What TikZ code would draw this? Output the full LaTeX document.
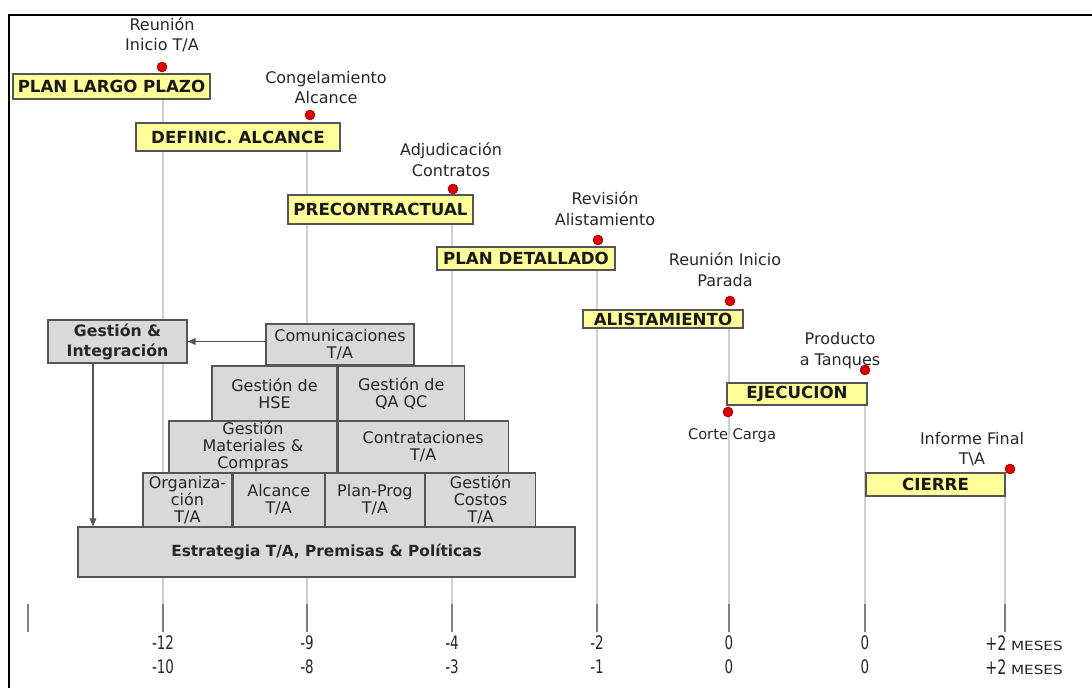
\documentclass[tikz,border=0pt]{standalone}
\usepackage{fontspec}
\setmainfont{DejaVu Sans}
\newfontfamily\numfont[FakeStretch=0.72]{DejaVu Sans}
\newfontfamily\mesfont[FakeStretch=1.2]{DejaVu Sans}
\usepackage{tikz}
\usetikzlibrary{arrows.meta, positioning, backgrounds}

\definecolor{boxyellow}{HTML}{FFFF99}
\definecolor{boxgray}{HTML}{D9D9D9}
\definecolor{edgegray}{HTML}{555555}
\definecolor{linegray}{HTML}{CFCFCF}
\definecolor{tickgray}{HTML}{808080}
\definecolor{dotred}{HTML}{D90000}

\begin{document}
\begin{tikzpicture}[
      x=0.75pt, y=-0.75pt,
      phase/.style={draw=edgegray, fill=boxyellow, line width=0.9pt, inner sep=0pt,
                    font=\fontsize{12.5}{14}\selectfont\bfseries, text=black!90},
      block/.style={draw=edgegray, fill=boxgray, line width=0.9pt, inner sep=0pt,
                    align=center, font=\fontsize{12}{12.8}\selectfont, text=black!85},
      hito/.style={align=center, inner sep=0pt, font=\fontsize{12}{15.5}\selectfont,
                   text=black!85},
      hitodot/.style={circle, draw=red!60!black, fill=dotred, inner sep=0pt,
                      minimum size=7.5pt},
      mes/.style={inner sep=0pt, font=\numfont\fontsize{14}{15}\selectfont, text=black!85},
      tl/.style={draw=linegray, line width=1.1pt},
      tk/.style={draw=tickgray, line width=1.1pt},
      arr/.style={-{Triangle[length=6pt, width=5pt]}, draw=edgegray, line width=0.8pt}
    ]
    \useasboundingbox (0,0) rectangle (1092,688);
    \draw[line width=2.2pt] (9,688) -- (9,15) -- (1092,15);

    % fases
    \node[phase, minimum width=147.75pt, minimum height=18.75pt] (plp) at (111.5,86.5) {PLAN LARGO PLAZO};
    \node[phase, minimum width=153pt,    minimum height=21pt]    (def) at (238,137)    {DEFINIC. ALCANCE};
    \node[phase, minimum width=138.75pt, minimum height=21.75pt] (pre) at (380.5,209.5) {PRECONTRACTUAL};
    \node[phase, minimum width=133.5pt,  minimum height=17.25pt] (pde) at (526,258.5)  {PLAN DETALLADO};
    \node[phase, minimum width=120pt,    minimum height=13.5pt]  (ali) at (663,319)    {ALISTAMIENTO};
    \node[phase, minimum width=105pt,    minimum height=16.5pt]  (eje) at (797,394)    {EJECUCION};
    \node[phase, minimum width=104.25pt, minimum height=17.25pt] (cie) at (935.5,484.5) {CIERRE};

    % hitos
    \node[hito] (h1) at (162,35)    {Reunión\\Inicio T/A};
    \node[hito] (h2) at (326,87.5)  {Congelamiento\\Alcance};
    \node[hito] (h3) at (451,159.5) {Adjudicación\\Contratos};
    \node[hito] (h4) at (605,208.5) {Revisión\\Alistamiento};
    \node[hito] (h5) at (725,270)   {Reunión Inicio\\Parada};
    \node[hito] (h6) at (840,350.5) {Producto\\a Tanques};
    \node[hito, font=\fontsize{11}{13}\selectfont] (h7) at (732,436) {Corte Carga};
    \node[hito] (h8) at (972,449)   {Informe Final\\T\textbackslash A};

    \node[hitodot] (d1) at (162,67)  {};
    \node[hitodot] (d2) at (310,115) {};
    \node[hitodot] (d3) at (453,189) {};
    \node[hitodot] (d4) at (598,240) {};
    \node[hitodot] (d5) at (730,301) {};
    \node[hitodot] (d6) at (865,370) {};
    \node[hitodot] (d7) at (728,412) {};
    \node[hitodot] (d8) at (1010,469) {};

    % piramide
    \node[block, minimum width=111pt, minimum height=30.75pt] (com) at (340,344.5) {Comunicaciones\\T/A};
    \node[block, minimum width=93.75pt, minimum height=41.25pt] (hse) at (274.5,393.5) {Gestión de\\HSE};
    \node[block, minimum width=94.5pt, minimum height=41.25pt, right=0pt of hse] (qa) {Gestión de\\QA QC};
    \node[block, minimum width=126pt, minimum height=39pt] (mat) at (253,447) {Gestión\\Materiales \&\\Compras};
    \node[block, minimum width=127.5pt, minimum height=39pt, right=0pt of mat] (con) {Contrataciones\\T/A};
    \node[block, minimum width=66.75pt, minimum height=40.5pt] (org) at (187.5,500) {Organiza-\\ción\\T/A};
    \node[block, minimum width=68.25pt, minimum height=40.5pt, right=0pt of org] (alc) {Alcance\\T/A};
    \node[block, minimum width=74.25pt, minimum height=40.5pt, right=0pt of alc] (plan) {Plan-Prog\\T/A};
    \node[block, minimum width=82.5pt, minimum height=40.5pt, right=0pt of plan] (cos) {Gestión\\Costos\\T/A};
    \node[block, minimum width=372.75pt, minimum height=37.5pt, font=\fontsize{11.5}{13}\selectfont\bfseries] (est) at (326.5,552) {Estrategia T/A, Premisas \& Políticas};
    \node[block, minimum width=104.25pt, minimum height=32.25pt, font=\fontsize{11.8}{15}\selectfont\bfseries] (gi) at (117.5,341.5) {Gestión \&\\Integración};

    \draw[arr] (com.west |- gi.east) -- (gi.east);
    \draw[arr] ([xshift=-18.4pt]gi.south) -- ([xshift=-18.4pt]gi.south |- est.north);

    % eje de meses
    \coordinate (tick0) at (28,604);
    \draw[tk] (tick0) -- ++(0,28);
    \foreach \i/\x/\a/\b in {1/163/-12/-10, 2/307/-9/-8, 3/452/-4/-3, 4/597/-2/-1, 5/729/0/0, 6/865/0/0}{
      \coordinate (tick\i) at (\x,604);
      \draw[tk] (tick\i) -- ++(0,28);
      \node[mes] (ma\i) at (\x,643) {\a};
      \node[mes] (mb\i) at (\x,667) {\b};
    }
    \coordinate (tick7) at (1005,604);
    \draw[tk] (tick7) -- ++(0,28);
    \node[mes, anchor=west] (ma7) at (985,643) {\fontsize{15}{15}\selectfont+2 {\mesfont\fontsize{9.5}{12}\selectfont MESES}};
    \node[mes, anchor=west] (mb7) at (985,667) {\fontsize{15}{15}\selectfont+2 {\mesfont\fontsize{9.5}{12}\selectfont MESES}};

    \begin{scope}[on background layer]
      \draw[tl] (plp.south -| tick1) -- (tick1);
      \draw[tl] (def.south -| tick2) -- (tick2);
      \draw[tl] (pre.south -| tick3) -- (tick3);
      \draw[tl] (pde.south -| tick4) -- (tick4);
      \draw[tl] (ali.south -| tick5) -- (tick5);
      \draw[tl] (eje.south -| tick6) -- (tick6);
      \draw[tl] (cie.south -| tick7) -- (tick7);
    \end{scope}
  \end{tikzpicture}
\end{document}
